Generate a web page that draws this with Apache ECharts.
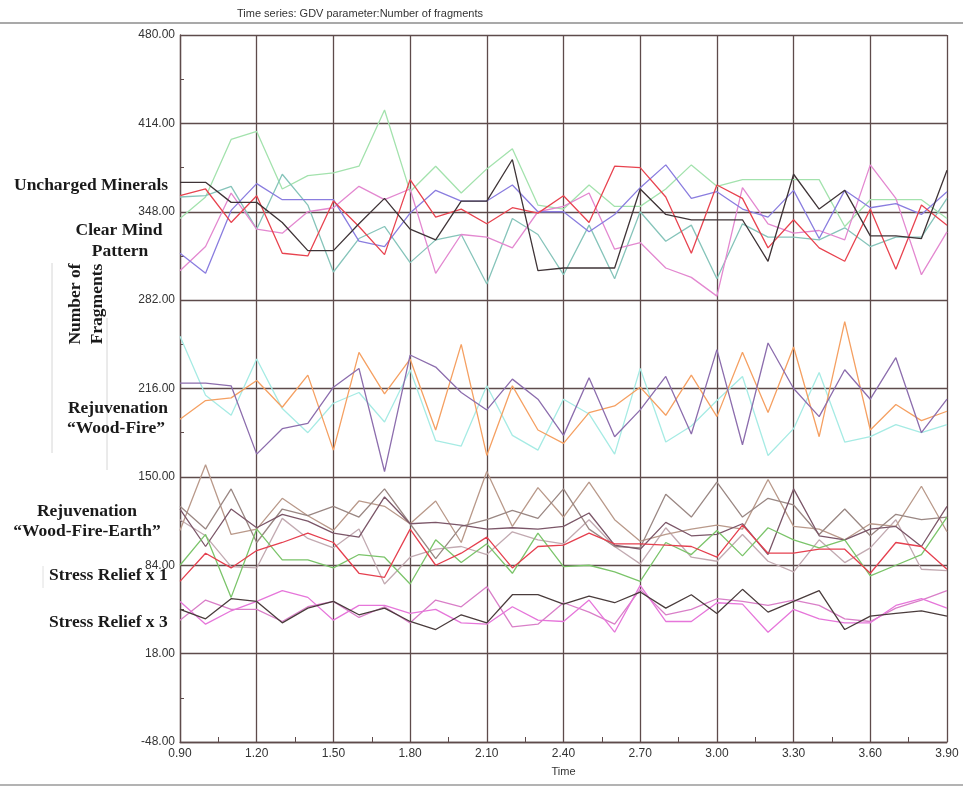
<!DOCTYPE html>
<html>
<head>
<meta charset="utf-8">
<script src="https://cdn.jsdelivr.net/npm/echarts@6/dist/echarts.min.js"></script>
<style>
html,body{margin:0;padding:0;background:#fff;}
#chart{width:963px;height:789px;}
</style>
</head>
<body>
<div id="chart"></div>
<script>
// ---- data ----
const times = [0.90,1.00,1.10,1.20,1.30,1.40,1.50,1.60,1.70,1.80,1.90,2.00,2.10,2.20,2.30,2.40,2.50,2.60,2.70,2.80,2.90,3.00,3.10,3.20,3.30,3.40,3.50,3.60,3.70,3.80,3.90];
const yTicks = [-48, 18, 84, 150, 216, 282, 348, 414, 480];
const xTicks = [0.90,1.20,1.50,1.80,2.10,2.40,2.70,3.00,3.30,3.60,3.90];

// Uncharged Minerals / Clear Mind Pattern
const umGreen = [343,359,402,408,365,375,377,382,424,363,382,362,380,395,353, 350,368,352,352,365,383,367,372,372,372,372,337,357,357,357,343];
const umDark  = [370,370,355,355,340,319,319,339,358,335,327,356,356,387,304, 306,306,306,365,346,342,342,342,311,376,350,364,330,330,328,379];
const umRed   = [360,365,340,360,317,315,356,337,316,372,344,350,339,351,347, 360,340,382,381,359,317,368,358,321,342,321,311,350,305,353,338];
const umBlue  = [317,302,349,369,357,357,357,326,322,347,364,356,356,368,348, 348,333,346,366,383,358,363,350,344,364,328,364,351,354,346,363];
const umPink  = [304,322,362,335,332,348,351,367,357,365,302,331,329,321,348, 352,362,320,325,306,299,285,366,339,332,334,327,383,358,301,333];
const umTeal  = [359,360,367,335,376,353,303,328,337,310,327,331,294,343,331, 301,338,298,348,326,338,298,339,329,329,327,336,322,329,329,358];

// Rejuvenation "Wood-Fire"
const wfOrange = [193,207,209,222,202,226,170,243,212,238,185,249,166,218,185, 175,198,203,217,196,226,195,243,198,247,180,266,185,204,192,199];
const wfPurple = [220,220,218,167,186,190,217,231,154,241,232,213,200,223,208, 181,224,180,200,225,182,245,174,250,216,195,230,208,239,183,208];
const wfCyan   = [255,211,196,238,201,183,205,213,191,230,177,173,218,181,170, 208,197,167,231,176,188,207,225,166,186,228,176,180,189,183,189];

// Rejuvenation "Wood-Fire-Earth" / Stress Relief x 1
const wfeTan   = [110,159,107,111,134,121,110,132,128,115,132,101,154,113,142, 120,146,118,102,107,111,114,111,148,113,111,103,115,113,143,109];
const wfeGray  = [128,111,141,101,126,121,128,120,141,115,89,113,118,125,119, 141,111,98,97,137,120,146,120,134,129,107,126,106,122,118,120];
const wfeDark  = [126,98,126,112,122,117,108,105,135,115,116,114,111,112,111, 113,123,99,96,116,106,107,115,92,141,106,103,111,113,98,128];
const wfeLight = [118,106,83,82,119,104,97,111,70,90,96,98,92,109,103, 100,118,98,85,112,90,87,107,87,79,103,86,97,118,81,80];
const sr1Green = [84,107,60,111,88,88,82,92,90,70,103,86,100,78,108, 83,84,79,72,101,92,110,91,112,103,97,103,76,84,92,120];
const sr1Red   = [72,93,82,95,101,108,101,78,75,111,84,93,105,82,98, 99,108,100,100,99,98,90,114,93,93,96,96,78,101,98,81];

// Stress Relief x 3
const sr3Dark = [51,44,59,57,41,52,57,47,52,42,36,47,41,62,62, 55,61,56,64,52,62,48,66,49,57,65,36,46,48,50,46];
const sr3Mag  = [57,40,50,57,65,60,43,54,54,48,51,41,40,53,43, 42,58,34,69,42,42,56,55,34,51,44,41,41,54,59,52];
const sr3Pink = [43,58,51,51,42,53,57,45,53,41,58,53,68,38,40, 56,49,40,66,47,51,59,57,54,58,54,44,42,52,58,65];

// ---- build ----
const Y0 = yTicks[0];            // axis offset so ticks start at min
const YSTEP = yTicks[1] - yTicks[0];
const seriesDefs = [
  ['umGreen', umGreen, '#a3e2ad'],
  ['umTeal', umTeal, '#86c4ba'],
  ['umPink', umPink, '#e388d0'],
  ['umBlue', umBlue, '#8a7ddf'],
  ['umRed', umRed, '#e8434f'],
  ['umDark', umDark, '#3f3437'],
  ['wfCyan', wfCyan, '#a6ebe4'],
  ['wfOrange', wfOrange, '#f5a062'],
  ['wfPurple', wfPurple, '#8c6dad'],
  ['wfeLight', wfeLight, '#c2aab1'],
  ['wfeTan', wfeTan, '#b9998a'],
  ['wfeGray', wfeGray, '#9a8783'],
  ['wfeDark', wfeDark, '#7b5668'],
  ['sr1Green', sr1Green, '#7bc46a'],
  ['sr1Red', sr1Red, '#e5404f'],
  ['sr3Pink', sr3Pink, '#d97fc8'],
  ['sr3Mag', sr3Mag, '#e676da'],
  ['sr3Dark', sr3Dark, '#4a3c3c']
];
const series = seriesDefs.map(([name, vals, color]) => ({
  name: name,
  type: 'line',
  data: vals.map((v, i) => [Math.round(times[i] * 10), v - Y0]),
  symbol: 'none',
  lineStyle: { color: color, width: 1.3 },
  itemStyle: { color: color },
  animation: false,
  z: 3
}));

const gridColor = '#5e4b4b';
const labelFont = 'Liberation Sans';
const serif = 'Liberation Serif';
const annFont = 'bold 17.5px "' + serif + '"';
function lbl(text, x, y, align) {
  return { type: 'text', x: x, y: y, style: { text: text, fill: '#1a1a1a',
    font: annFont, textAlign: align || 'left', textVerticalAlign: 'middle' } };
}

const option = {
  backgroundColor: '#ffffff',
  animation: false,
  grid: { left: 180, right: 16, top: 35, bottom: 47, containLabel: false },
  xAxis: {
    type: 'value',
    min: Math.round(xTicks[0] * 10), max: Math.round(xTicks[xTicks.length - 1] * 10),
    interval: Math.round((xTicks[1] - xTicks[0]) * 10),
    name: 'Time', nameLocation: 'middle', nameGap: 24,
    nameTextStyle: { color: '#333', fontFamily: labelFont, fontSize: 11 },
    axisLine: { show: true, lineStyle: { color: gridColor, width: 1.3 } },
    axisTick: { show: true, inside: true, length: 4, lineStyle: { color: gridColor } },
    minorTick: { show: true, splitNumber: 2, length: 5, lineStyle: { color: gridColor, width: 1 } },
    axisLabel: { color: '#333', fontFamily: labelFont, fontSize: 12, margin: 6,
      formatter: v => (v / 10).toFixed(2) },
    splitLine: { show: true, lineStyle: { color: gridColor, width: 1.3 } }
  },
  yAxis: {
    type: 'value',
    min: 0, max: yTicks[yTicks.length - 1] - Y0, interval: YSTEP,
    axisLine: { show: true, lineStyle: { color: gridColor, width: 1.3 } },
    axisTick: { show: true, inside: true, length: 4, lineStyle: { color: gridColor } },
    minorTick: { show: true, splitNumber: 2, length: 4, lineStyle: { color: gridColor, width: 1 } },
    axisLabel: { color: '#333', fontFamily: labelFont, fontSize: 12, margin: 5,
      formatter: v => (v + Y0).toFixed(2) },
    splitLine: { show: true, lineStyle: { color: gridColor, width: 1.3 } }
  },
  series: series,
  graphic: [
    { type: 'text', x: 360, y: 14, style: { text: 'Time series: GDV parameter:Number of fragments',
      fill: '#333', font: '11px "' + labelFont + '"', textAlign: 'center', textVerticalAlign: 'middle' } },
    { type: 'line', shape: { x1: 0, y1: 23, x2: 963, y2: 23 }, style: { stroke: '#8c8c8c', lineWidth: 1.5 } },
    { type: 'line', shape: { x1: 0, y1: 785, x2: 963, y2: 785 }, style: { stroke: '#9a9a9a', lineWidth: 1.5 } },
    // faint bracket marks
    { type: 'line', shape: { x1: 52, y1: 263, x2: 52, y2: 453 }, style: { stroke: '#d6d6d6', lineWidth: 1 } },
    { type: 'line', shape: { x1: 107, y1: 318, x2: 107, y2: 470 }, style: { stroke: '#d6d6d6', lineWidth: 1 } },
    { type: 'line', shape: { x1: 43, y1: 566, x2: 43, y2: 588 }, style: { stroke: '#e0e0e0', lineWidth: 1 } },
    lbl('Uncharged Minerals', 14, 185),
    lbl('Clear Mind', 119, 230, 'center'),
    lbl('Pattern', 120, 251, 'center'),
    { type: 'text', x: 75, y: 304, rotation: Math.PI / 2, style: { text: 'Number of', fill: '#1a1a1a',
      font: annFont, textAlign: 'center', textVerticalAlign: 'middle' } },
    { type: 'text', x: 97, y: 304, rotation: Math.PI / 2, style: { text: 'Fragments', fill: '#1a1a1a',
      font: annFont, textAlign: 'center', textVerticalAlign: 'middle' } },
    lbl('Rejuvenation', 118, 408, 'center'),
    lbl('\u201cWood-Fire\u201d', 116, 428, 'center'),
    lbl('Rejuvenation', 87, 511, 'center'),
    lbl('\u201cWood-Fire-Earth\u201d', 87, 531, 'center'),
    lbl('Stress Relief x 1', 49, 575),
    lbl('Stress Relief x 3', 49, 622)
  ]
};

const chart = echarts.init(document.getElementById('chart'), null, { renderer: 'canvas' });
chart.setOption(option);
</script>
</body>
</html>
